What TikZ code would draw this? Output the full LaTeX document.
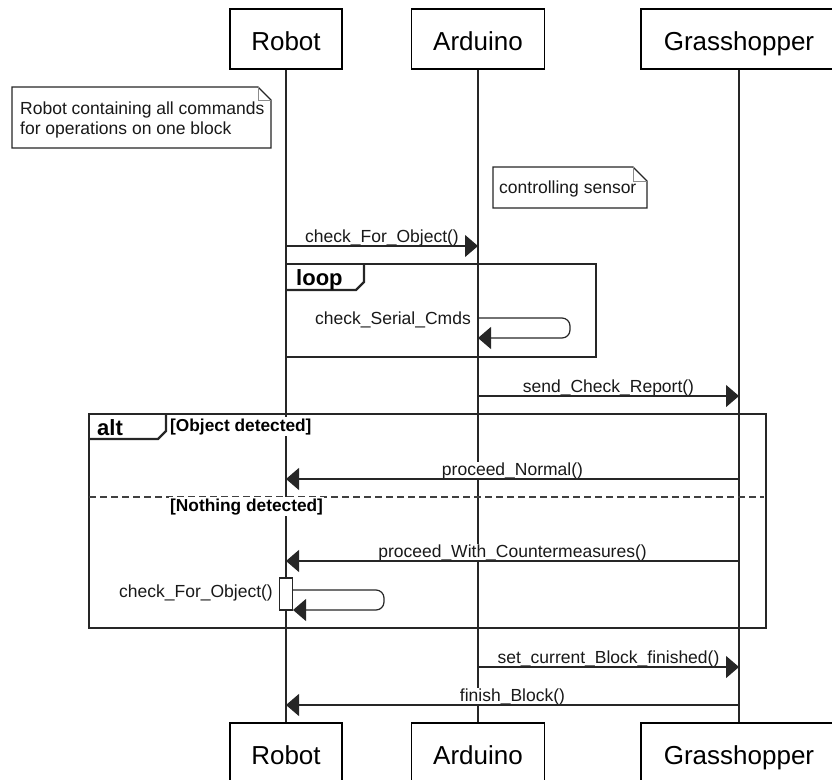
\documentclass[tikz,border=0pt]{standalone}
\usepackage{fontspec}
\setmainfont{Liberation Sans}
\usetikzlibrary{arrows.meta}
\begin{document}
\begin{tikzpicture}[x=1pt,y=-1pt,
  actor/.style={draw=black, line width=1.2pt, minimum height=60pt, fill=white,
                font=\fontsize{26}{30}\selectfont, inner sep=0pt, text height=22pt, text depth=0pt},
  life/.style={line width=1.1pt, black!85},
  msg/.style={line width=1.2pt, black!85, -{Triangle[length=13pt,width=22pt]}},
  lbl/.style={font=\fontsize{17.5}{20}\selectfont, inner sep=1pt, fill=white, text=black!90},
  slbl/.style={font=\fontsize{17.5}{20}\selectfont, inner sep=0pt, text=black!90},
  frame/.style={line width=2.2pt, black!85},
  tag/.style={font=\bfseries\fontsize{22}{24}\selectfont, inner sep=0pt},
  guard/.style={font=\bfseries\fontsize{17.3}{20}\selectfont, inner sep=1pt, fill=white},
  notebox/.style={line width=1.1pt, black!85, fill=white},
  fold/.style={line width=1pt, black!45},
  actbox/.style={draw=black!85, line width=1.1pt, fill=white, minimum width=13pt, minimum height=32pt, inner sep=0pt},
]
\useasboundingbox (0,0) rectangle (832,779);
\clip (0,0) rectangle (832,779);

% actors
\node[actor, minimum width=112pt] (robotT) at (286,39) {Robot};
\node[actor, minimum width=133pt] (ardT) at (478,39) {Arduino};
\node[actor, minimum width=196pt] (grassT) at (739,39) {Grasshopper};
\node[actor, minimum width=112pt] (robotB) at (286,753) {Robot};
\node[actor, minimum width=133pt] (ardB) at (478,753) {Arduino};
\node[actor, minimum width=196pt] (grassB) at (739,753) {Grasshopper};

% lifelines
\draw[life] (robotT.south) -- (robotB.north);
\draw[life] (ardT.south) -- (ardB.north);
\draw[life] (grassT.south) -- (grassB.north);

% note 1
\draw[notebox] (12,87) -- (258,87) -- (271,100) -- (271,148) -- (12,148) -- cycle;
\draw[fold] (258,87) -- (258,100) -- (271,100);
\node[slbl, anchor=north west, align=left] (note1) at (20,101.5)
  {Robot containing all commands\\for operations on one block};

% note 2
\draw[notebox] (493,167) -- (633,167) -- (647,181) -- (647,208) -- (493,208) -- cycle;
\draw[fold] (633,167) -- (633,181) -- (647,181);
\node[slbl, anchor=base west] (note2) at (499,193) {controlling sensor};

% coordinates on lifelines
\coordinate (r1) at (286,246);
\coordinate (a1) at (478,246);
\coordinate (a2s) at (478,318);
\coordinate (a2t) at (570,318);
\coordinate (a2b) at (570,338);
\coordinate (a2e) at (478,338);
\coordinate (a3) at (478,396);
\coordinate (g3) at (739,396);
\coordinate (g4) at (739,479);
\coordinate (r4) at (286,479);
\coordinate (g5) at (739,561);
\coordinate (r5) at (286,561);
\coordinate (a6) at (478,667);
\coordinate (g6) at (739,667);
\coordinate (g7) at (739,705);
\coordinate (r7) at (286,705);

% message labels (drawn before the arrows so the lines stay visible)
\node[lbl, anchor=base] (m1) at (382,242.5) {check\_For\_Object()};
\node[lbl, anchor=base] (m3) at (608.5,392.5) {send\_Check\_Report()};
\node[lbl, anchor=base] (m4) at (512.5,475.5) {proceed\_Normal()};
\node[lbl, anchor=base] (m5) at (512.5,557.5) {proceed\_With\_Countermeasures()};
\node[lbl, anchor=base] (m7) at (608.5,663.5) {set\_current\_Block\_finished()};
\node[lbl, anchor=base] (m8) at (512.5,701.5) {finish\_Block()};

% message 1
\draw[msg] (r1) -- (a1);

% loop frame
\draw[frame] (286,264) rectangle (596,357);
\draw[frame] (286,290) -- (356,290) -- (364,282) -- (364,264);
\node[tag, anchor=base west] (looptag) at (296,285) {loop};

% self message on Arduino
\draw[msg, rounded corners=8pt] (a2s) -- (a2t) -- (a2b) -- (a2e);
\node[slbl, anchor=base east] (m2) at (471,324.5) {check\_Serial\_Cmds};

% message 3
\draw[msg] (a3) -- (g3);

% alt frame
\draw[frame] (89,414) rectangle (766,628);
\draw[frame] (89,439) -- (158,439) -- (166,431) -- (166,414);
\node[tag, anchor=base west] (alttag) at (97,435) {alt};
\node[guard, anchor=base west] (g1) at (169,431) {[Object detected]};

\draw[msg] (g4) -- (r4);

\draw[line width=2.2pt, black!75, dash pattern=on 7pt off 4pt] (89,497) -- (764,497);
\node[guard, anchor=base west] (g2) at (169,511) {[Nothing detected]};

\draw[msg] (g5) -- (r5);

% activation and self call on Robot
\node[actbox] (act) at (286,594) {};
\coordinate (s1) at (act.east |- 0,590);
\coordinate (s2) at (384,590);
\coordinate (s3) at (384,610);
\coordinate (s4) at (act.east |- 0,610);
\draw[msg, rounded corners=8pt] (s1) -- (s2) -- (s3) -- (s4);
\node[slbl, anchor=base east] (m6) at (273,597) {check\_For\_Object()};

% final messages
\draw[msg] (a6) -- (g6);
\draw[msg] (g7) -- (r7);
\end{tikzpicture}
\end{document}
